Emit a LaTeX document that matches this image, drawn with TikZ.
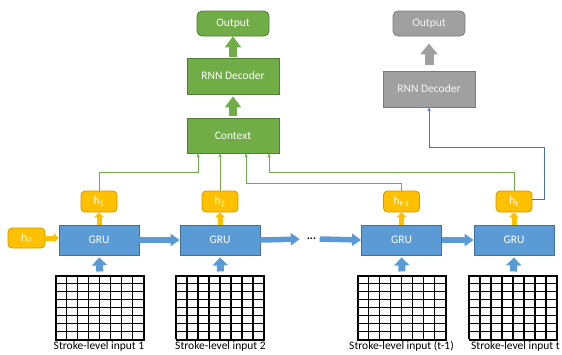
\documentclass[tikz,border=0pt]{standalone}
\usepackage{fontspec}
\setmainfont{Carlito}
\usetikzlibrary{arrows.meta}

\definecolor{grnfill}{HTML}{70AD47}
\definecolor{grnline}{HTML}{507E32}
\definecolor{blufill}{HTML}{5B9BD5}
\definecolor{bluline}{HTML}{41719C}
\definecolor{orgfill}{HTML}{FFC000}
\definecolor{orgline}{HTML}{C99A00}
\definecolor{gryfill}{HTML}{A0A0A0}
\definecolor{gryline}{HTML}{7A7A7A}
\definecolor{linkblue}{HTML}{4472C4}

\tikzset{
  txt/.style={font=\fontsize{11.5}{13}\selectfont},
  box/.style={txt, text=white, inner sep=0pt, line width=0.8pt},
  greenbox/.style={box, fill=grnfill, draw=grnline, minimum width=92pt, minimum height=36pt},
  greyblock/.style={box, fill=gryfill, draw=gryline, minimum width=92pt, minimum height=36pt, text=white!92!gray},
  outgreen/.style={box, fill=grnfill, draw=grnline, rounded corners=5pt, minimum width=72pt, minimum height=25pt},
  outgrey/.style={box, fill=gryfill, draw=gryline, rounded corners=5pt, minimum width=72pt, minimum height=25pt, text=white!92!gray},
  grubox/.style={box, fill=blufill, draw=bluline, minimum width=80pt, minimum height=30pt},
  hbox/.style={box, fill=orgfill, draw=orgline, rounded corners=4pt, minimum width=36pt, minimum height=21pt},
  gridbox/.style={inner sep=0pt, minimum width=88pt, minimum height=64pt, draw=black, line width=1.1pt},
  label/.style={txt, text=black, inner sep=0pt},
  % wide block arrows
  bigarrow/.style={line width=8pt, -{Triangle[width=16pt,length=11pt]}},
  greyarrow/.style={gryfill, line width=9pt, -{Triangle[width=17pt,length=11pt]}},
  uparrow/.style={blufill, line width=7pt, -{Triangle[width=15pt,length=8pt]}},
  sidearrow/.style={blufill, line width=5.5pt, -{Triangle[width=12pt,length=9pt]}},
  hiddenarrow/.style={orgfill, line width=5pt, -{Triangle[width=10pt,length=5pt]}},
  % thin context links
  ctxlink/.style={grnfill, line width=0.8pt, -{Stealth[length=4pt,width=3.5pt]}},
  declink/.style={linkblue, line width=0.8pt, -{Stealth[length=4pt,width=3.5pt]}},
}

\begin{document}
\begin{tikzpicture}[x=1pt,y=-1pt]
\useasboundingbox (0,0) rectangle (562,354);

% attention decoder (green)
\node[outgreen] (outG) at (233,23.5) {Output};
\node[greenbox] (decG) at (233,76) {RNN Decoder};
\node[greenbox, minimum height=35pt] (ctx) at (233,135.5) {Context};

% plain decoder (grey)
\node[outgrey] (outY) at (429,23.5) {Output};
\node[greyblock] (decY) at (429,89) {RNN Decoder};

% encoder cells
\node[grubox] (gru1) at (99,240) {GRU};
\node[grubox] (gru2) at (220,240) {GRU};
\node[grubox] (gru3) at (401.5,240) {GRU};
\node[grubox] (gru4) at (514,240) {GRU};
\node[txt, inner sep=0pt, minimum width=16pt] (dots) at (311.5,239) {\textbf{...}};

% hidden states
\node[hbox, minimum width=37pt, minimum height=20pt] (h0) at (26.5,238) {h\textsubscript{0}};
\node[hbox] (h1) at (99,201.5) {h\textsubscript{1}};
\node[hbox] (h2) at (220,201.5) {h\textsubscript{2}};
\node[hbox] (h3) at (401.5,201.5) {h\textsubscript{t-1}};
\node[hbox] (h4) at (514,201.5) {h\textsubscript{t}};

% stroke-level inputs
\foreach \n/\x in {1/100, 2/220.5, 3/402, 4/513.5} {
  \node[gridbox] (g\n) at (\x,308) {};
  \begin{scope}[shift={(g\n.north west)}]
    \draw[black, line width=1.1pt, xstep=11pt, ystep=8pt] (0,0) grid (88,64);
  \end{scope}
}
\node[label] (l1) at (99,346) {Stroke-level input 1};
\node[label] (l2) at (220.5,346) {Stroke-level input 2};
\node[label] (l3) at (401.5,346) {Stroke-level input (t-1)};
\node[label, anchor=west] (l4) at (471,346) {Stroke-level input t};

% decoder block arrows
\draw[bigarrow, grnfill, shorten <=2pt, shorten >=2pt] (ctx.north) -- (decG.south);
\draw[bigarrow, grnfill, shorten <=1pt] (decG.north) -- (outG.south);
\draw[greyarrow, shorten <=6pt, shorten >=7pt] (decY.north) -- (outY.south);

% inputs into the cells
\foreach \n in {1,2,3,4}
  \draw[uparrow, shorten <=4pt, shorten >=2pt] (g\n.north) -- (gru\n.south);

% recurrence along the sequence
\draw[sidearrow] (gru1.east) -- (gru2.west);
\draw[sidearrow, shorten >=3.5pt] (gru2.east) -- (dots.west);
\draw[sidearrow] (dots.east) -- (gru3.west);
\draw[sidearrow] (gru3.east) -- (gru4.west);

% hidden state outputs
\draw[hiddenarrow] (h0.east) -- (gru1.west |- h0.east);
\foreach \n in {1,2,3,4}
  \draw[hiddenarrow] (gru\n.north) -- (h\n.south);

% hidden states gathered by the context
\draw[ctxlink] (h1.north) |- (198,172) -- (198,153.5);
\draw[ctxlink] (h2.north) -- (h2.north |- ctx.south);
\draw[ctxlink] (h3.north) |- (246,183) -- (246,153.5);
\draw[ctxlink] (h4.north) |- (269,172) -- (269,153.5);

% last state straight to the plain decoder
\draw[declink] (h4.east |- 0,199) -| (544,147) -| (decY.south);
\end{tikzpicture}
\end{document}
